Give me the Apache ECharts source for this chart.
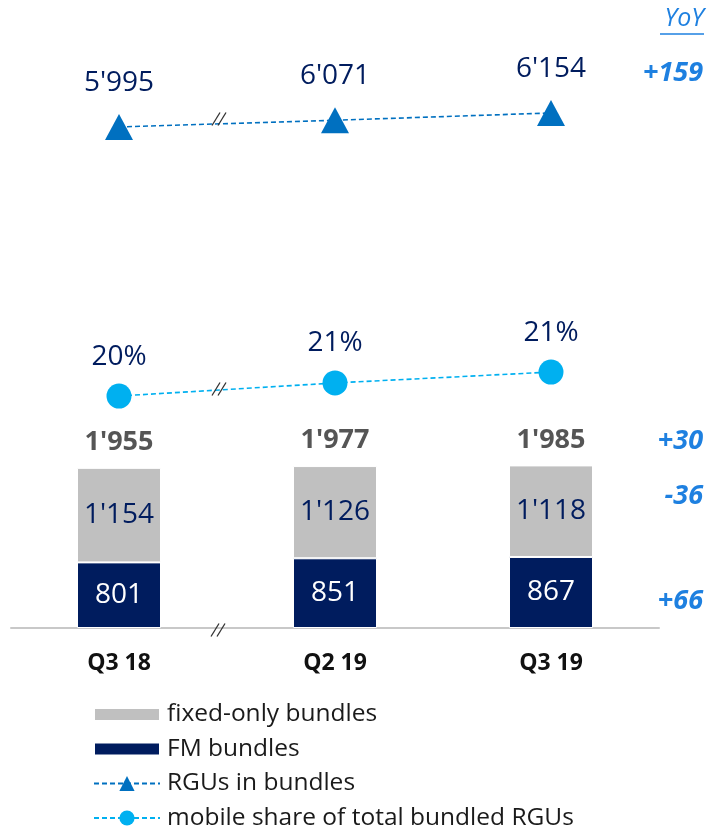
<!DOCTYPE html>
<html>
<head>
<meta charset="utf-8">
<script src="https://cdn.jsdelivr.net/npm/echarts@6/dist/echarts.min.js"></script>
<style>
  html, body { margin: 0; padding: 0; background: #fff; }
  #chart { width: 709px; height: 830px; }
</style>
</head>
<body>
<div id="chart"></div>
<script>
// Quarterly bundle figures
const quarters = ['Q3 18', 'Q2 19', 'Q3 19'];
const fmBundles = [801, 851, 867];
const fixedOnlyBundles = [1154, 1126, 1118];
const totalBundles = [1955, 1977, 1985];
const rgusInBundles = [5995, 6071, 6154];
const mobileShare = [20.3, 20.9, 21.4];

// Year-on-year changes shown in the right-hand column
const yoyRgus = '+159';
const yoyTotal = '+30';
const yoyFixedOnly = '-36';
const yoyFm = '+66';

const FONT = '"Open Sans", "Noto Sans", sans-serif';
const NAVY = '#001c5e';
const GREY = '#c0c0c0';
const BLUE_TRI = '#0070c0';
const BLUE_DOT = '#00b0f0';
const YOY_BLUE = '#1e80e0';

// Flat bar swatch for the legend, thinner than the legend row height
const SWATCH = 'path://M0,0 M0,3 L66,3 L66,16 L0,16 Z M0,19';

const fmt = v => {
  const s = String(Math.round(v));
  return s.length > 3 ? s.slice(0, s.length - 3) + "'" + s.slice(s.length - 3) : s;
};

const chart = echarts.init(document.getElementById('chart'), null, { renderer: 'canvas' });

// Break marks ("//") between the first and second quarter
function breakMark(x, y) {
  const h = 13, slant = 4;
  return [-3, 3].map(dx => ({
    type: 'line',
    shape: { x1: x + dx - slant, y1: y + h / 2, x2: x + dx + slant, y2: y - h / 2 },
    style: { stroke: '#333', lineWidth: 1.3 },
    z: 20
  }));
}

const yoyText = (text, y) => ({
  type: 'text', right: 6, top: y,
  style: { text, font: 'italic bold 27px ' + FONT, fill: YOY_BLUE, textAlign: 'right' }
});

chart.setOption({
  animation: false,
  textStyle: { fontFamily: FONT },
  grid: { left: 11, right: 50, top: 30, bottom: 202 },
  xAxis: {
    type: 'category',
    data: quarters,
    axisLine: { show: true, lineStyle: { color: '#c8c8c8', width: 2 } },
    axisTick: { show: false },
    axisLabel: { margin: 24, color: '#111', fontWeight: 'bold', fontSize: 23, fontFamily: FONT }
  },
  yAxis: [
    { type: 'value', min: 0, max: 7300, show: false },
    { type: 'value', min: 305, max: 7096, show: false },
    { type: 'value', min: 9.66, max: 37.09, show: false }
  ],
  legend: {
    orient: 'vertical',
    left: 93,
    top: 702,
    height: 150,
    padding: 0,
    itemWidth: 66,
    itemHeight: 19,
    itemGap: 9.5,
    data: [
      { name: 'fixed-only bundles', icon: SWATCH },
      { name: 'FM bundles', icon: SWATCH },
      'RGUs in bundles',
      'mobile share of total bundled RGUs'
    ],
    textStyle: { fontSize: 24.5, color: '#1a1a1a', fontFamily: FONT, padding: [0, 0, 0, 2] }
  },
  series: [
    {
      name: 'FM bundles',
      type: 'bar',
      stack: 'bundles',
      yAxisIndex: 0,
      barWidth: 84,
      data: fmBundles,
      itemStyle: { color: NAVY, borderColor: '#fff', borderWidth: 1 },
      label: { show: true, position: 'inside', color: '#fff', fontSize: 28, fontFamily: FONT, formatter: p => fmt(p.value) }
    },
    {
      name: 'fixed-only bundles',
      type: 'bar',
      stack: 'bundles',
      yAxisIndex: 0,
      barWidth: 84,
      data: fixedOnlyBundles,
      itemStyle: { color: GREY, borderColor: '#fff', borderWidth: 1 },
      label: { show: true, position: 'inside', color: NAVY, fontSize: 28, fontFamily: FONT, formatter: p => fmt(p.value) }
    },
    {
      name: 'total',
      type: 'scatter',
      yAxisIndex: 0,
      data: totalBundles,
      symbolSize: 0,
      silent: true,
      label: { show: true, position: 'top', distance: 12, color: '#2a2a2a', fontWeight: 'bold', fontSize: 27, fontFamily: FONT, formatter: p => fmt(p.value) }
    },
    {
      name: 'RGUs in bundles',
      type: 'line',
      yAxisIndex: 1,
      data: rgusInBundles,
      symbol: 'triangle',
      symbolSize: [28, 26],
      itemStyle: { color: BLUE_TRI },
      lineStyle: { color: BLUE_TRI, width: 1.6, type: [5, 3] },
      label: { show: true, position: 'top', distance: 17, color: NAVY, fontSize: 28, fontFamily: FONT, formatter: p => fmt(p.value) }
    },
    {
      name: 'mobile share of total bundled RGUs',
      type: 'line',
      yAxisIndex: 2,
      data: mobileShare,
      symbol: 'circle',
      symbolSize: 25,
      itemStyle: { color: BLUE_DOT },
      lineStyle: { color: BLUE_DOT, width: 1.6, type: [5, 3] },
      label: { show: true, position: 'top', distance: 13, color: NAVY, fontSize: 28, fontFamily: FONT, formatter: p => Math.round(p.value) + '%' }
    }
  ],
  graphic: [
    {
      type: 'text', right: 5, top: 6,
      style: { text: 'YoY', font: 'italic 25px ' + FONT, fill: YOY_BLUE, textAlign: 'right' }
    },
    {
      type: 'line',
      shape: { x1: 660, y1: 34, x2: 704, y2: 34 },
      style: { stroke: YOY_BLUE, lineWidth: 1.5 }
    },
    yoyText(yoyRgus, 60),
    yoyText(yoyTotal, 428),
    yoyText(yoyFixedOnly, 483),
    yoyText(yoyFm, 588),
    ...breakMark(219, 119),
    ...breakMark(219, 389),
    ...breakMark(218, 630)
  ]
});
</script>
</body>
</html>
